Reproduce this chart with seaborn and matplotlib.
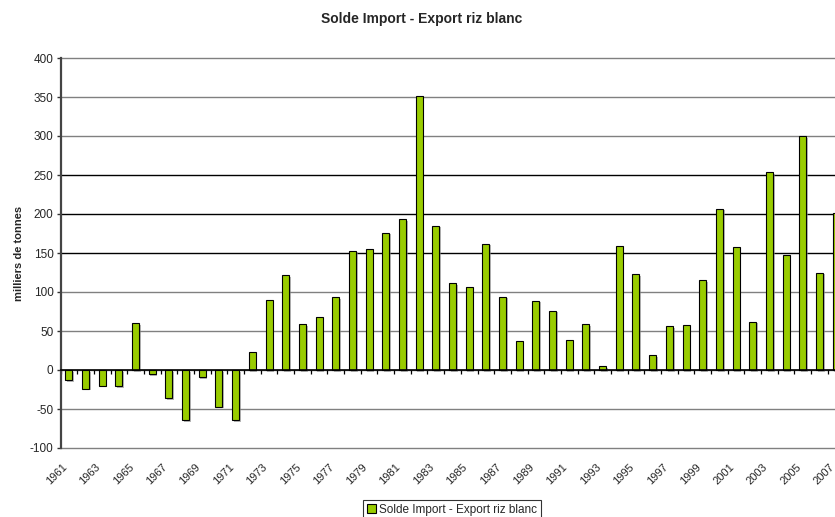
import numpy as np
import pandas as pd
import matplotlib
matplotlib.use("Agg")
import matplotlib.pyplot as plt
import matplotlib.patheffects as pe
import matplotlib.transforms as mtransforms
import seaborn as sns

# Net rice trade balance (imports minus exports), thousands of tonnes
years = list(range(1961, 2008))
balance = [-13, -24, -20, -21, 60, -5, -36, -64, -9, -47,
           -64, 23, 90, 122, 59, 68, 93, 153, 155, 176,
           193, 351, 185, 111, 107, 162, 94, 37, 89, 76,
           39, 59, 5, 159, 123, 19, 56, 58, 115, 207,
           158, 62, 254, 147, 300, 125, 201]
series_name = "Solde Import - Export riz blanc"
title = "Solde Import - Export riz blanc"
ylabel = "milliers de tonnes"
yticks = [-100, -50, 0, 50, 100, 150, 200, 250, 300, 350, 400]
xtick_years = years[::2]

df = pd.DataFrame({"annee": years, "solde": balance})

sns.set_style("white")
plt.rcParams["font.family"] = ["Liberation Sans", "DejaVu Sans"]

fig = plt.figure(figsize=(8.35, 5.17), dpi=100)
ax = fig.add_axes([60.5 / 835, 69 / 517, 784 / 835, 390 / 517])

# horizontal grid (outer lines act as the plot frame)
for v in yticks:
    c = "black" if v in (150, 200, 250) else "#808080"
    ax.axhline(v, color=c, lw=1.0, zorder=0.5, clip_on=False)

sns.barplot(data=df, x="annee", y="solde", native_scale=True, width=0.42,
            color="#99CC00", saturation=1, edgecolor="black", linewidth=0.8,
            label=series_name, ax=ax, zorder=2)
for bar in ax.patches:
    bar.set_path_effects([pe.SimplePatchShadow(offset=(1.2, -1.2),
                                               shadow_rgbFace="#888888",
                                               alpha=0.6),
                          pe.Normal()])

ax.set_xlim(years[0] - 0.5, years[-1] + 0.5)
ax.set_ylim(-100, 400)
ax.set_yticks(yticks)
ax.set_yticklabels([str(v) for v in yticks], fontsize=8.5)
ax.tick_params(axis="y", direction="out", length=3, width=1, pad=2,
               left=True, color="#333333")

for s in ("top", "right"):
    ax.spines[s].set_visible(False)
ax.spines["left"].set_color("#444444")
ax.spines["left"].set_linewidth(1.6)
ax.spines["bottom"].set_position(("data", 0))
ax.spines["bottom"].set_color("black")
ax.spines["bottom"].set_linewidth(1.2)
ax.spines["bottom"].set_zorder(3)

# category boundary tick marks on the zero line
ax.set_xticks(np.arange(years[0] - 0.5, years[-1] + 1, 1.0))
ax.set_xticklabels([])
ax.tick_params(axis="x", direction="out", length=3, width=0.9,
               bottom=True, color="black")

# year labels along the bottom edge
sec = ax.secondary_xaxis("bottom")
sec.set_xticks(xtick_years)
sec.set_xticklabels([str(y) for y in xtick_years], rotation=45, ha="right",
                    rotation_mode="anchor", fontsize=8)
sec.tick_params(length=0, pad=10)
sec.spines["bottom"].set_visible(False)
shift = mtransforms.ScaledTranslation(-7 / 100, 0, fig.dpi_scale_trans)
for lbl in sec.get_xticklabels():
    lbl.set_transform(lbl.get_transform() + shift)

ax.set_xlabel("")
ax.set_ylabel(ylabel, fontsize=8, fontweight="bold", labelpad=4)

fig.text(0.505, 1 - 19 / 517, title, ha="center", va="center",
         fontsize=10, fontweight="bold")

leg = ax.legend(loc="upper center", bbox_to_anchor=(452 / 835, 1 - 500 / 517),
                bbox_transform=fig.transFigure, fontsize=8.5, frameon=True,
                fancybox=False, shadow=False, handlelength=0.8,
                handleheight=0.8, handletextpad=0.3, borderpad=0.3,
                borderaxespad=0)
leg.get_frame().set_edgecolor("black")
leg.get_frame().set_linewidth(0.8)
for h in leg.legend_handles:
    h.set_path_effects([])

fig.savefig("out.png", dpi=100)
